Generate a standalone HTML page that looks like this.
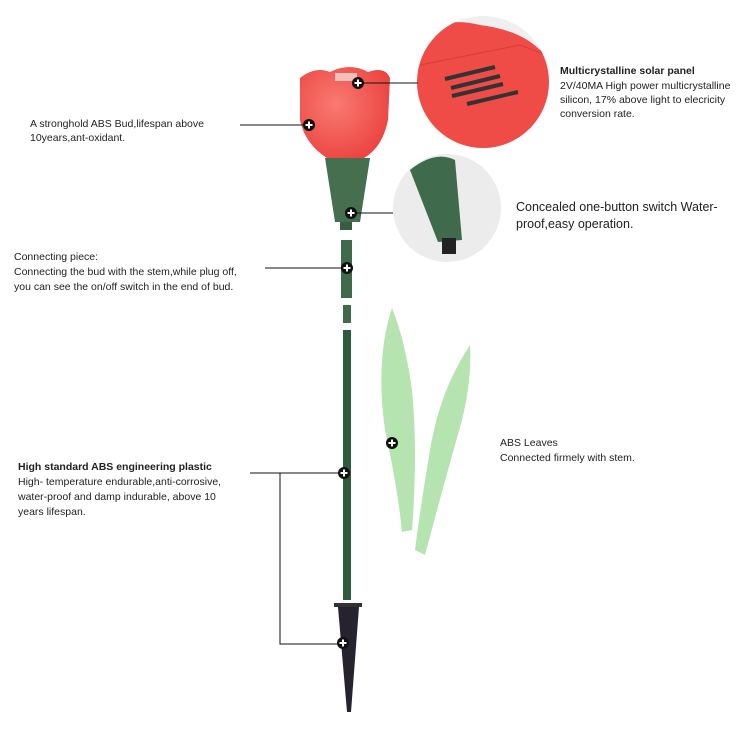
<!DOCTYPE html>
<html><head><meta charset="utf-8"><style>
html,body{margin:0;padding:0;background:#fff;}
svg{display:block;font-family:"Liberation Sans",sans-serif;}
text{fill:#222;font-size:10.5px;}
</style></head><body>
<svg width="750" height="730" viewBox="0 0 750 730" xmlns="http://www.w3.org/2000/svg">
<defs>
<radialGradient id="bud" cx="0.4" cy="0.4" r="0.7"><stop offset="0" stop-color="#f97a72"/><stop offset="1" stop-color="#ea3f3c"/></radialGradient>
<clipPath id="c1"><circle cx="483" cy="82" r="66"/></clipPath>
<clipPath id="c2"><circle cx="447" cy="208" r="54"/></clipPath>
</defs>
<circle cx="483" cy="82" r="66" fill="#efefef"/>
<g clip-path="url(#c1)">
<path d="M410 40 Q440 15 480 25 Q520 30 540 50 Q560 50 560 70 L560 160 L410 160 Z" fill="#ef4b47"/>
<path d="M420 65 L520 45 L560 60" stroke="#d83c3a" fill="none"/>
<g stroke="#333" stroke-width="4">
<line x1="445" y1="79" x2="495" y2="67"/><line x1="451" y1="88" x2="500" y2="76"/>
<line x1="452" y1="96" x2="503" y2="84"/><line x1="467" y1="104" x2="518" y2="92"/>
</g>
</g>
<circle cx="447" cy="208" r="54" fill="#ececec"/>
<g clip-path="url(#c2)">
<path d="M410 170 Q435 150 455 160 L462 240 L438 242 Z" fill="#3f6b4c"/>
<rect x="442" y="238" width="14" height="16" fill="#222"/>
</g>
<path d="M300 78 Q315 66 330 72 Q350 62 368 72 Q385 66 390 78 L388 120 Q382 150 360 160 L330 160 Q305 145 300 120 Z" fill="url(#bud)"/>
<rect x="335" y="73" width="22" height="8" fill="#f2c0bb"/>
<path d="M325 158 L370 158 L360 222 L335 222 Z" fill="#466f50"/>
<rect x="340" y="222" width="12" height="8" fill="#3a5c44"/>
<rect x="341" y="240" width="11" height="58" fill="#3f6a4b"/>
<rect x="343" y="305" width="8" height="18" fill="#3f6a4b"/>
<rect x="343" y="330" width="8" height="270" fill="#2f5a3d"/>
<rect x="334" y="603" width="28" height="4" fill="#333"/>
<path d="M338 607 L359 607 L351 712 L347 712 Z" fill="#26232e"/>
<path d="M392 308 Q375 360 385 430 Q398 490 402 532 L412 530 Q418 450 412 390 Q405 340 392 308 Z" fill="#b5e4b1"/>
<path d="M470 345 Q440 390 430 450 Q420 510 415 550 L425 555 Q445 480 462 420 Q472 380 470 345 Z" fill="#b5e4b1"/>
<g stroke="#111" stroke-width="1" fill="none">
<line x1="240" y1="125" x2="308" y2="125"/>
<line x1="362" y1="83" x2="418" y2="83"/>
<line x1="351" y1="213" x2="393" y2="213"/>
<line x1="265" y1="268" x2="347" y2="268"/>
<line x1="250" y1="473" x2="345" y2="473"/>
<polyline points="280,473 280,644 343,644"/>
</g>
<g>
<g transform="translate(309,125)"><circle r="6" fill="#111"/><path d="M-3.5 0H3.5M0 -3.5V3.5" stroke="#fff" stroke-width="2"/></g>
<g transform="translate(358,83)"><circle r="6" fill="#111"/><path d="M-3.5 0H3.5M0 -3.5V3.5" stroke="#fff" stroke-width="2"/></g>
<g transform="translate(351,213)"><circle r="6" fill="#111"/><path d="M-3.5 0H3.5M0 -3.5V3.5" stroke="#fff" stroke-width="2"/></g>
<g transform="translate(347,268)"><circle r="6" fill="#111"/><path d="M-3.5 0H3.5M0 -3.5V3.5" stroke="#fff" stroke-width="2"/></g>
<g transform="translate(344,473)"><circle r="6" fill="#111"/><path d="M-3.5 0H3.5M0 -3.5V3.5" stroke="#fff" stroke-width="2"/></g>
<g transform="translate(343,643)"><circle r="6" fill="#111"/><path d="M-3.5 0H3.5M0 -3.5V3.5" stroke="#fff" stroke-width="2"/></g>
<g transform="translate(392,443)"><circle r="6" fill="#111"/><path d="M-3.5 0H3.5M0 -3.5V3.5" stroke="#fff" stroke-width="2"/></g>
</g>
<text x="30" y="127">A stronghold ABS Bud,lifespan above</text>
<text x="30" y="141">10years,ant-oxidant.</text>
<text x="560" y="74" style="font-weight:bold">Multicrystalline solar panel</text>
<text x="560" y="89">2V/40MA High power multicrystalline</text>
<text x="560" y="103">silicon, 17% above light to elecricity</text>
<text x="560" y="117">conversion rate.</text>
<text x="516" y="211" style="font-size:12.5px">Concealed one-button switch Water-</text>
<text x="516" y="228" style="font-size:12.5px">proof,easy operation.</text>
<text x="14" y="260">Connecting piece:</text>
<text x="14" y="275">Connecting the bud with the stem,while plug off,</text>
<text x="14" y="290">you can see the on/off switch in the  end of bud.</text>
<text x="500" y="446">ABS Leaves</text>
<text x="500" y="461">Connected firmely with stem.</text>
<text x="18" y="470" style="font-weight:bold">High standard ABS engineering plastic</text>
<text x="18" y="485">High- temperature endurable,anti-corrosive,</text>
<text x="18" y="500">water-proof and damp indurable, above 10</text>
<text x="18" y="515">years lifespan.</text>
</svg>
</body></html>
